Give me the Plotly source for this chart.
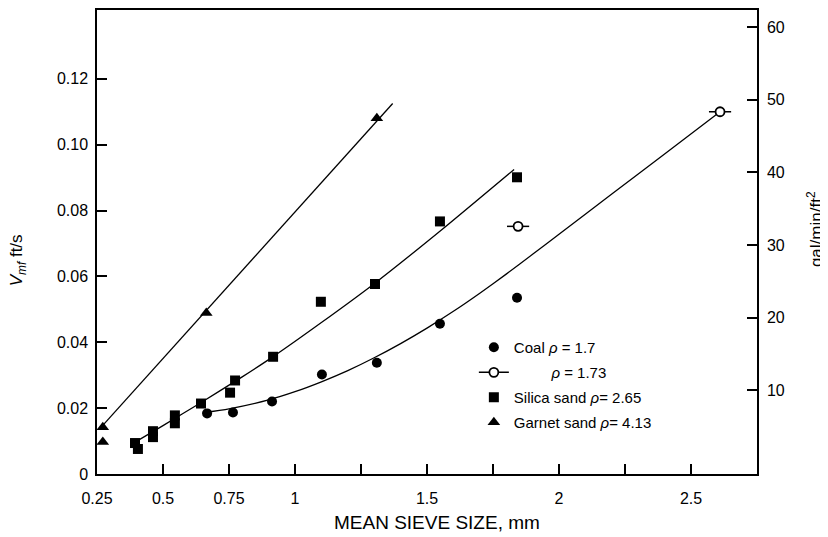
import plotly.graph_objects as go

# measured points (mean sieve size in mm, V_mf in ft/s)
coal_x = [0.667, 0.765, 0.913, 1.102, 1.31, 1.549, 1.841]
coal_y = [0.0184, 0.0187, 0.0220, 0.0302, 0.0338, 0.0456, 0.0535]

coal_open_x = [1.845, 2.61]
coal_open_y = [0.0752, 0.110]

silica_x = [0.394, 0.405, 0.462, 0.462, 0.545, 0.545, 0.644, 0.754, 0.773, 0.917, 1.098, 1.303, 1.549, 1.841]
silica_y = [0.0094, 0.0076, 0.0130, 0.0112, 0.0178, 0.0154, 0.0214, 0.0247, 0.0284, 0.0356, 0.0523, 0.0577, 0.0767, 0.0901]

garnet_x = [0.272, 0.272, 0.664, 1.31]
garnet_y = [0.0142, 0.0097, 0.0489, 0.108]

# hand drawn fit curves
coal_fit_x = [0.65, 0.75, 0.9, 1.0, 1.1, 1.2, 1.3, 1.4, 1.5, 1.6, 1.7, 1.8, 1.9, 2.0, 2.2, 2.4, 2.61]
coal_fit_y = [0.0186, 0.0198, 0.0225, 0.0250, 0.0280, 0.0314, 0.0353, 0.0396, 0.0443, 0.0494, 0.0549, 0.0607, 0.0667, 0.0728, 0.0850, 0.0972, 0.110]

silica_fit_x = [0.38, 0.5, 0.64, 0.8, 0.92, 1.1, 1.3, 1.55, 1.83]
silica_fit_y = [0.0090, 0.0147, 0.0215, 0.0295, 0.0358, 0.0460, 0.0578, 0.0738, 0.0925]

garnet_fit_x = [0.26, 1.37]
garnet_fit_y = [0.0137, 0.1125]

x_ticks = [0.25, 0.5, 0.75, 1, 1.5, 2, 2.5]
x_labels = ["0.25", "0.5", "0.75", "1", "1.5", "2", "2.5"]
x_minor_ticks = [1.25, 1.75, 2.25]
y_ticks = [0, 0.02, 0.04, 0.06, 0.08, 0.10, 0.12]
y_labels = ["0", "0.02", "0.04", "0.06", "0.08", "0.10", "0.12"]
y2_ticks = [10, 20, 30, 40, 50, 60]

FONT = "Liberation Sans, Arial, sans-serif"


def fit_line(x, y):
    return go.Scatter(x=x, y=y, mode="lines", line=dict(color="black", width=1.3, shape="spline", smoothing=0.6),
                      showlegend=False, hoverinfo="skip")


fig = go.Figure()
fig.add_trace(fit_line(coal_fit_x, coal_fit_y))
fig.add_trace(fit_line(silica_fit_x, silica_fit_y))
fig.add_trace(fit_line(garnet_fit_x, garnet_fit_y))

fig.add_trace(go.Scatter(
    x=coal_x, y=coal_y, mode="markers", name="Coal <i>ρ</i> = 1.7", legendgroup="a",
    marker=dict(symbol="circle", size=10, color="black"),
))
fig.add_trace(go.Scatter(
    x=coal_open_x, y=coal_open_y, mode="markers", showlegend=False,
    error_x=dict(type="constant", value=0.042, width=0, thickness=1.5, color="black"),
    marker=dict(symbol="circle", size=9, color="white", line=dict(color="black", width=1.8)),
))
# legend entry for the open circles
fig.add_trace(go.Scatter(
    x=[None], y=[None], mode="lines+markers", legendgroup="b",
    name="\u00a0" * 9 + "<i>ρ</i> = 1.73",
    line=dict(color="black", width=1.5),
    marker=dict(symbol="circle", size=9, color="white", line=dict(color="black", width=1.8)),
))
fig.add_trace(go.Scatter(
    x=silica_x, y=silica_y, mode="markers", name="Silica sand <i>ρ</i>= 2.65", legendgroup="c",
    marker=dict(symbol="square", size=10, color="black"),
))
fig.add_trace(go.Scatter(
    x=garnet_x, y=garnet_y, mode="markers", name="Garnet sand <i>ρ</i>= 4.13", legendgroup="d",
    marker=dict(symbol="triangle-up", size=11, color="black"),
))
# empty trace so the gal/min/ft2 axis gets drawn
fig.add_trace(go.Scatter(x=[None], y=[None], yaxis="y2", showlegend=False, hoverinfo="skip"))

axis_common = dict(showline=True, linecolor="black", linewidth=1.5, ticks="inside", ticklen=10,
                   tickwidth=1.5, tickcolor="black", showgrid=False, zeroline=False,
                   tickfont=dict(family=FONT, size=16, color="black"))

# the page body adds 8px on the left/top, so the figure is 8px smaller
fig.update_layout(
    width=820, height=529,
    margin=dict(l=89, r=71, t=0, b=63),
    paper_bgcolor="white", plot_bgcolor="white",
    font=dict(family=FONT, size=15, color="black"),
    xaxis=dict(range=[0.25, 2.75], tickvals=x_ticks, ticktext=x_labels, mirror=True,
               ticklabelstandoff=9,
               minor=dict(tickvals=x_minor_ticks, ticks="inside", ticklen=10, tickwidth=1.5,
                          tickcolor="black", showgrid=False),
               **axis_common),
    yaxis=dict(range=[0, 0.1409], tickvals=y_ticks, ticktext=y_labels, ticklabelstandoff=4,
               **axis_common),
    yaxis2=dict(range=[-1.5, 62.33], tickvals=y2_ticks, overlaying="y", side="right", anchor="x",
                ticklabelstandoff=5, **axis_common),
    legend=dict(x=0.571, y=0.308, xanchor="left", yanchor="top", bgcolor="rgba(0,0,0,0)",
                tracegroupgap=2.5, traceorder="grouped", font=dict(family=FONT, size=15)),
    annotations=[
        dict(text="MEAN SIEVE SIZE, mm", x=0.515, y=-0.105, xref="paper", yref="paper",
             xanchor="center", yanchor="middle", showarrow=False, font=dict(size=19)),
        dict(text="<i>V<sub>mf</sub></i> ft/s", x=-0.12, y=0.46, xref="paper", yref="paper",
             xanchor="center", yanchor="middle", showarrow=False, textangle=-90, font=dict(size=17)),
        dict(text="gal/min/ft<sup>2</sup>", x=1.088, y=0.528, xref="paper", yref="paper",
             xanchor="center", yanchor="middle", showarrow=False, textangle=-90, font=dict(size=17)),
    ],
)

fig.write_html("out.html")
